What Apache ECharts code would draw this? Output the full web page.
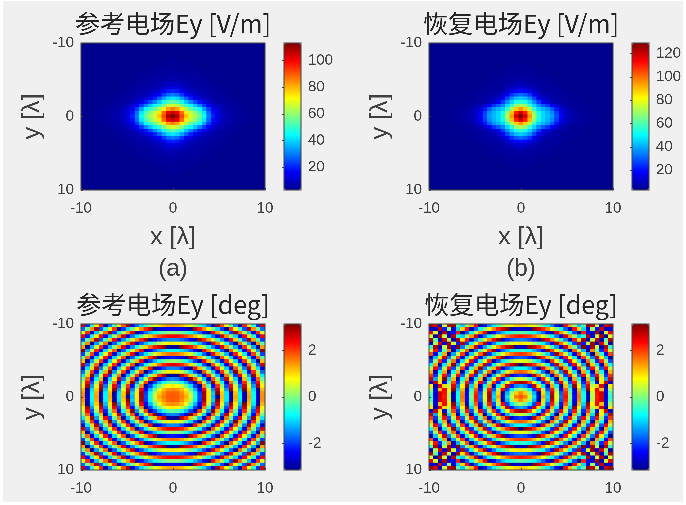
<!DOCTYPE html>
<html>
<head>
<meta charset="UTF-8">
<title>Ey</title>
<script src="https://cdn.jsdelivr.net/npm/echarts@6/dist/echarts.min.js"></script>
<style>
html, body { margin: 0; padding: 0; background: #fff; }
#back { position: absolute; left: 3px; top: 1px; width: 680px; height: 501px; background: #f0f0f0; }
/* the reference is a soft screenshot */
#main { position: absolute; left: 0; top: 0; width: 686px; height: 505px; filter: blur(0.55px); }
</style>
</head>
<body>
<div id="back"></div>
<div id="main"></div>
<script type="text/javascript">
// Values. Each field is close to symmetric, so one quadrant
// is kept: row = |y| and column = |x|, both in 0.5 lambda steps from the centre.
var ampRefQuad = [
[113,108,92,78,68,62,56,45,30,20,13,9,7,6,5,5,4,4,3,3,3],
[106,101,88,74,65,59,52,42,28,18,12,9,7,6,5,4,4,4,3,3,3],
[86,82,74,63,55,50,44,34,23,15,11,8,6,5,5,4,4,3,3,3,3],
[68,65,58,50,44,38,31,23,16,11,8,7,5,5,4,4,3,3,3,3,3],
[55,52,46,38,31,25,19,14,10,8,6,5,5,4,4,3,3,3,3,3,3],
[42,40,34,27,20,15,11,9,7,6,5,5,4,4,3,3,3,3,3,3,3],
[30,28,23,17,13,10,8,7,6,5,5,4,4,4,3,3,3,3,3,3,3],
[20,19,15,11,9,8,6,6,5,5,4,4,4,3,3,3,3,3,3,3,3],
[13,12,10,8,7,6,6,5,5,4,4,4,3,3,3,3,3,3,3,3,3],
[9,9,8,7,6,6,5,5,4,4,4,3,3,3,3,3,3,3,3,3,3],
[7,7,6,6,5,5,5,4,4,4,3,3,3,3,3,3,3,3,3,3,3],
[6,6,5,5,5,5,4,4,4,3,3,3,3,3,3,3,3,3,3,3,3],
[5,5,5,5,4,4,4,4,3,3,3,3,3,3,3,3,3,3,3,3,3],
[5,4,4,4,4,4,3,3,3,3,3,3,3,3,3,3,3,3,3,3,3],
[4,4,4,4,4,3,3,3,3,3,3,3,3,3,3,3,3,3,3,3,3],
[4,4,4,3,3,3,3,3,3,3,3,3,3,3,3,3,3,3,3,3,3],
[4,3,3,3,3,3,3,3,3,3,3,3,3,3,3,3,3,3,3,3,3],
[3,3,3,3,3,3,3,3,3,3,3,3,3,3,3,3,3,3,3,3,3],
[3,3,3,3,3,3,3,3,3,3,3,3,3,3,3,3,3,3,3,3,3],
[3,3,3,3,3,3,3,3,3,3,3,3,3,3,3,3,3,3,3,3,3],
[3,3,3,3,3,3,3,3,3,3,3,3,3,3,3,3,3,3,3,3,3]
];
var ampRecQuad = [
[129,118,95,72,54,46,42,38,28,18,11,8,6,5,4,4,4,3,3,3,3],
[120,110,90,68,52,45,41,36,26,16,10,8,6,5,4,4,4,3,3,3,3],
[95,88,72,56,45,41,37,30,21,13,9,7,5,4,4,4,3,3,3,3,3],
[72,68,56,45,36,30,25,18,12,8,6,5,4,4,4,3,3,3,3,3,3],
[56,53,45,36,26,17,12,9,7,6,5,4,4,4,3,3,3,3,3,3,3],
[44,42,36,27,17,11,8,7,6,5,4,4,4,3,3,3,3,3,3,3,3],
[32,30,25,18,11,8,7,6,5,5,4,4,3,3,3,3,3,3,3,3,3],
[20,19,15,11,8,6,5,5,5,4,4,3,3,3,3,3,3,3,3,3,3],
[12,11,9,7,6,5,5,4,4,4,3,3,3,3,3,3,3,3,3,3,3],
[8,8,7,6,5,5,4,4,4,3,3,3,3,3,3,3,3,3,3,3,3],
[6,6,5,5,5,4,4,4,3,3,3,3,3,3,3,3,3,3,3,3,3],
[5,5,5,4,4,4,4,3,3,3,3,3,3,3,3,3,3,3,3,3,3],
[5,4,4,4,4,3,3,3,3,3,3,3,3,3,3,3,3,3,3,3,3],
[4,4,4,4,3,3,3,3,3,3,3,3,3,3,3,3,3,3,3,3,3],
[4,4,3,3,3,3,3,3,3,3,3,3,3,3,3,3,3,3,3,3,3],
[3,3,3,3,3,3,3,3,3,3,3,3,3,3,3,3,3,3,3,3,3],
[3,3,3,3,3,3,3,3,3,3,3,3,3,3,3,3,3,3,3,3,3],
[3,3,3,3,3,3,3,3,3,3,3,3,3,3,3,3,3,3,3,3,3],
[3,3,3,3,3,3,3,3,3,3,3,3,3,3,3,3,3,3,3,3,3],
[3,3,3,3,3,3,3,3,3,3,3,3,3,3,3,3,3,3,3,3,3],
[3,3,3,3,3,3,3,3,3,3,3,3,3,3,3,3,3,3,3,3,3]
];
var phaseRefQuad = [
[1.8,1.8,1.6,1.3,.5,-.6,-1.9,2.9,.9,-1.2,-3,1.2,-.9,-2.9,1.3,-.8,-2.8,1.4,-.7,-2.7,1.5],
[1.8,1.75,1.5,1.1,.35,-.75,-2,2.95,.9,-1.1,3.1,1.1,-.95,-3,1.2,-.85,-2.9,1.3,-.75,-2.8,1.45],
[1.5,1.45,1.2,.7,-.2,-1.2,-2.4,2.4,.4,-1.55,2.7,.6,-1.4,2.95,.9,-1.15,3.1,1.1,-.95,-3,1.25],
[.9,.8,.5,-.15,-.95,-2,-3,1.5,-.4,-2.3,2.05,.1,-1.9,2.4,.4,-1.6,2.7,.6,-1.4,2.9,.85],
[-.15,-.25,-.65,-1.2,-2,-2.9,2,.3,-1.45,3.05,1.2,-.75,-2.65,1.7,-.25,-2.2,2.1,.15,-1.85,2.4,.4],
[-1.5,-1.6,-2,-2.45,3.1,1.85,.45,-1.1,-2.75,1.85,.1,-1.7,2.7,.85,-1,-2.95,1.2,-.75,-2.55,1.8,-.15],
[-3,-3.1,2.75,2.05,1.1,0,-1.25,-2.7,2.1,.2,-1.2,-2.9,1.6,-.2,-2.05,2.4,.5,-1.4,3,1.05,-.9],
[.95,.85,.45,-.15,-1,-1.95,-3.1,1.85,.45,-1.05,-2.6,2.05,.35,-1.4,3.1,1.3,-.5,-2.4,2.1,.2,-1.7],
[-1.5,-1.55,-1.9,-2.4,-3.1,2.3,1.25,.05,-1.25,-2.65,2.15,.55,-1.05,-2.7,1.9,.15,-1.6,2.85,1,-.9,-2.7],
[2.5,2.4,2.15,1.65,1,.2,-.8,-1.9,-3.1,1.9,.5,-1,-2.5,2.15,.55,-1.1,-2.8,1.75,0,-1.75,2.65],
[.15,.05,-.2,-.65,-1.25,-2,-2.85,2.4,1.25,.05,-1.3,-2.65,2.15,.65,-.95,-2.55,2.1,.4,-1.3,-3.05,1.2],
[-2.2,-2.3,-2.55,-2.95,2.8,2.1,1.3,.35,-.7,-1.85,-3.05,1.9,.5,-1,-2.5,2.3,.7,-.95,-2.6,1.75,-.2],
[1.7,1.6,1.4,1.05,.5,-.1,-.9,-1.75,-2.75,2.45,1.3,.05,-1.25,-2.65,2.2,.7,-.85,-2.4,2,.05,-1.95],
[-.7,-.75,-1,-1.3,-1.8,-2.35,-3.05,2.4,1.5,.5,-.65,-1.85,-3.1,1.85,.45,-.95,-2.45,2.2,.45,-1.35,3.1],
[-3.05,-3.1,3,2.65,2.25,1.7,1.05,.25,-.6,-1.55,-2.6,2.55,1.35,.05,-1.25,-2.6,2.1,.4,-1.3,-3.1,1.4],
[.9,.85,.65,.35,-.05,-.55,-1.2,-1.9,-2.7,2.6,1.6,.55,-.6,-1.8,-3.1,1.7,.15,-1.4,-3.05,1.5,-.25],
[-1.5,-1.55,-1.7,-2,-2.35,-2.85,2.85,2.15,1.4,.5,-.45,-1.5,-2.6,2.45,1.05,-.4,-1.85,2.9,1.35,-.3,-2],
[2.4,2.4,2.2,1.95,1.6,1.15,.55,-.1,-.85,-1.65,-2.55,2.7,1.5,.15,-1.05,-2.45,2.4,.9,-.6,-2.25,2.4],
[.05,0,-.15,-.4,-.75,-1.2,-1.7,-2.3,-3,2.4,1.4,.35,-.8,-2,3,1.7,.3,-1.15,-2.65,2.1,.5],
[-2.4,-2.4,-2.5,-2.75,-3.05,2.75,2.15,1.5,.75,-.1,-1,-2,-3.1,2.05,.75,-.55,-1.9,2.9,1.45,-.1,-1.7],
[1.4,1.35,1.2,.95,.6,.15,-.4,-1,-1.75,-2.6,2.85,1.85,.8,-.3,-1.55,-2.8,2.15,.8,-.6,-2.1,2.6]
];
var phaseRecQuad = [
[1.8,1.6,.5,-.95,-2.7,1.3,-1,2.95,.65,-1.65,2.3,0,-2.3,1.65,-.65,-2.7,.3,2.2,2.6,-2.7,-.5],
[1.55,1.1,.15,-1.25,-3,1,-1.2,2.75,.5,-1.8,2.15,-.15,-2.45,1.55,-.75,-3.05,.4,2.3,2.7,-2.6,-.3],
[.3,0,-.85,-2,2.35,.3,-1.85,2.2,0,-2.25,1.8,-.45,-2.75,1.25,-1.05,3,.8,2.4,1.2,-2.5,.2],
[-1.3,-1.55,-2.2,2.7,1,-.85,-2.85,1.35,-.8,-2.95,1.15,-1.05,3,.75,-1.5,2.55,.3,1,2.6,-2.9,.9],
[2.95,2.7,1.95,.75,-.7,-2.15,2.1,.2,-1.85,2.4,.3,-1.85,2.25,.05,-2.1,1.95,-.25,-2.5,.9,2.7,-2.7],
[.5,.3,-.3,-1.3,-2.6,2.2,.55,-1.2,-3.1,1.2,-.85,-2.9,1.35,-.75,-2.9,1.2,-1,3.1,.85,-1.35,2.7],
[-1.95,-2.15,-2.65,2.75,1.65,.3,-1.2,-2.8,1.7,-.15,-2,2.25,.25,-1.8,2.4,.3,-1.85,2.3,.15,-2.05,2.05],
[1.8,1.65,1.2,.5,-.5,-1.65,-3,1.75,.15,-1.6,2.85,.95,-.95,-2.95,1.3,-.75,-2.85,1.35,-.75,-2.85,1.25],
[-.7,-.8,-1.2,-1.85,-2.7,2.5,1.25,-.15,-1.6,3,1.3,-.5,-2.35,2.05,.1,-1.9,2.35,.3,-1.8,2.4,.3],
[-3.1,3.05,2.7,2.1,1.3,.35,-.8,-2.1,2.75,1.25,-.4,-2.1,2.4,.55,-1.35,3.1,1.1,-.9,-2.95,1.35,-.75],
[.7,.6,.3,-.4,-.95,-1.85,-2.9,2.15,.8,-.6,-2.15,2.5,.85,-.9,-2.7,1.7,-.2,-2.15,2.15,.15,-1.9],
[-1.75,-1.85,-2.15,-2.6,3,2.15,1.2,.05,-1.2,-2.55,2.3,.75,-.85,-2.6,2,.15,-1.6,2.7,.9,-1.15,-3.05],
[2.05,1.95,1.7,1.25,.6,-.15,-1.05,-2.1,3,1.75,.4,-1.05,-2.65,2.05,.35,-1.35,-3.1,1.35,-.55,-2.45,1.95],
[-.5,-.55,-.8,-1.2,-1.75,-2.45,3,2,.9,-.3,-1.6,-3,1.85,.35,-1.25,-2.95,1.55,-.25,-2.1,2.3,.4],
[-2.85,-2.95,3.05,2.7,2.15,1.45,.6,-.3,-1.35,-2.45,2.65,1.25,-.1,-1.6,3.1,-2.6,2.9,.3,-2.9,2.8,-.5],
[.95,.85,.65,.2,-.2,-.8,-1.6,-2.45,2.85,1.75,.6,-.7,-2,2.85,-2.2,.5,3,-2.7,2.6,.2,-2.9],
[-1.55,-1.65,-1.85,-2.15,-2.65,3.05,2.35,1.55,.6,-.45,-1.55,-2.75,2.2,.9,2.9,-2.9,.3,2.7,-2.8,-.2,2.8],
[2.25,2.15,2,1.7,1.25,.7,.05,-.7,-1.6,-2.6,2.6,1.45,.15,-1.1,-.6,2.8,-2.6,.4,2.9,-3,.6],
[-.25,-.3,-.5,-.8,-1.2,-1.75,-2.35,-3.05,2.4,1.45,.4,-.7,-1.9,-3.1,2.2,-2.3,-2.8,2.9,-2.9,.5,2.5],
[-2.7,-2.75,-2.9,3.05,2.65,2.15,1.55,.85,.05,-.75,-1.8,-2.9,2.3,1.05,-1,-2.7,.2,-2.2,2.7,-2.9,-2.6],
[1.1,1.05,.85,.6,.2,-.25,-.85,-1.5,-2.3,-3.05,2.3,1.25,.1,-1.1,-.3,3,2.8,.4,-2.8,2.6,2.9]
];
var ampRefTicks = [20, 40, 60, 80, 100];
var ampRecTicks = [20, 40, 60, 80, 100, 120];
var phaseTicks = [-2, 0, 2];

// jet
var jet = ['#00008f','#0000ff','#0080ff','#00ffff','#80ff80','#ffff00','#ff8000','#ff0000','#800000'];
var textColor = '#404040';
var lineColor = '#404040';
var tickFont = 'Liberation Sans';
var titleFont = 'Noto Sans CJK SC';

var cellLabels = [];
for (var c = 0; c <= 40; c++) { cellLabels.push(c); }

// the quadrant is reflected into the four corners of the 41 x 41 grid
function cells(quad) {
	var out = [];
	for (var j = 0; j <= 40; j++) {
		for (var i = 0; i <= 40; i++) {
			out.push([i, j, quad[Math.abs(j - 20)][Math.abs(i - 20)]]);
		}
	}
	return out;
}

var panels = [
	{ title: '参考电场Ey [V/m]', quad: ampRefQuad, min: 3, max: 113, ticks: ampRefTicks, left: 81, top: 43, h: 147, hasX: true, tag: '(a)' },
	{ title: '恢复电场Ey [V/m]', quad: ampRecQuad, min: 3, max: 129, ticks: ampRecTicks, left: 429, top: 43, h: 147, hasX: true, tag: '(b)' },
	{ title: '参考电场Ey [deg]', quad: phaseRefQuad, min: -3.14, max: 3.14, ticks: phaseTicks, left: 81, top: 324, h: 146, hasX: false },
	{ title: '恢复电场Ey [deg]', quad: phaseRecQuad, min: -3.14, max: 3.14, ticks: phaseTicks, left: 429, top: 324, h: 146, hasX: false }
];

var option = {
	animation: false,
	title: [], grid: [], xAxis: [], yAxis: [], series: [], visualMap: []
};
var plotW = 184, barLeft = 203, barW = 17;

panels.forEach(function (p, n) {
	var g = option.grid.length;
	var ax = option.xAxis.length;

	option.title.push({
		text: p.title, left: p.left + plotW / 2, top: p.top - 32, textAlign: 'center', padding: 0,
		textStyle: { fontFamily: titleFont, fontSize: 25, fontWeight: 'normal', color: '#262626' }
	});
	if (p.tag) {
		option.title.push({
			text: p.tag, left: p.left + plotW / 2, top: 257, textAlign: 'center', padding: 0,
			textStyle: { fontFamily: tickFont, fontSize: 24, fontWeight: 'normal', color: textColor }
		});
	}

	// plot
	option.grid.push({
		left: p.left, top: p.top, width: plotW, height: p.h, containLabel: false,
		show: true, z: 5, backgroundColor: 'transparent', borderColor: lineColor, borderWidth: 1
	});
	// hidden band axes carry the cells, the value axes carry the ticks
	option.xAxis.push({ type: 'category', gridIndex: g, data: cellLabels, show: false });
	option.yAxis.push({ type: 'category', gridIndex: g, data: cellLabels, show: false, inverse: true });
	option.xAxis.push({
		type: 'value', gridIndex: g, min: -10, max: 10, interval: 10, position: 'bottom',
		name: p.hasX ? 'x [λ]' : '', nameLocation: 'middle', nameGap: 35,
		nameTextStyle: { fontFamily: tickFont, fontSize: 25, color: textColor },
		axisLine: { show: false }, splitLine: { show: false },
		axisTick: { show: true, inside: true, length: 2, lineStyle: { color: lineColor } },
		axisLabel: { fontFamily: tickFont, fontSize: 15, color: textColor, margin: 11, showMinLabel: true, showMaxLabel: true, hideOverlap: false },
		z: 6
	});
	option.yAxis.push({
		type: 'value', gridIndex: g, min: -10, max: 10, interval: 10, inverse: true, position: 'left',
		name: 'y [λ]', nameLocation: 'middle', nameGap: 36, nameRotate: 90,
		nameTextStyle: { fontFamily: tickFont, fontSize: 25, color: textColor },
		axisLine: { show: false }, splitLine: { show: false },
		axisTick: { show: true, inside: true, length: 2, lineStyle: { color: lineColor } },
		axisLabel: { fontFamily: tickFont, fontSize: 15, color: textColor, margin: 7, showMinLabel: true, showMaxLabel: true, hideOverlap: false },
		z: 6
	});
	option.series.push({
		type: 'heatmap', name: p.title, xAxisIndex: ax, yAxisIndex: ax,
		data: cells(p.quad), progressive: 0, silent: true, itemStyle: { borderWidth: 0 }
	});

	// colorbar: visualMap draws the ramp, an empty grid on top carries frame and ticks
	var bg = option.grid.length;
	option.visualMap.push({
		type: 'continuous', seriesIndex: n, min: p.min, max: p.max, show: true,
		left: p.left + barLeft, top: p.top, itemWidth: barW, itemHeight: p.h, padding: 0,
		text: null, showLabel: false, calculable: false, hoverLink: false, realtime: false,
		inRange: { color: jet }, textStyle: { color: 'transparent', fontSize: 1 }, z: 3
	});
	option.grid.push({
		left: p.left + barLeft, top: p.top, width: barW, height: p.h,
		show: true, z: 5, backgroundColor: 'transparent', borderColor: lineColor, borderWidth: 1
	});
	option.xAxis.push({ type: 'value', gridIndex: bg, min: 0, max: 1, show: false });
	option.yAxis.push({
		type: 'value', gridIndex: bg, min: p.min, max: p.max, position: 'right', z: 6,
		axisLine: { show: false }, splitLine: { show: false },
		axisTick: { show: true, inside: true, length: 2, lineStyle: { color: lineColor }, customValues: p.ticks },
		axisLabel: { fontFamily: tickFont, fontSize: 15, color: textColor, margin: 7, customValues: p.ticks }
	});
});

var myChart = echarts.init(document.getElementById('main'), null, { renderer: 'canvas', devicePixelRatio: 3 });
myChart.setOption(option);
</script>
</body>
</html>
